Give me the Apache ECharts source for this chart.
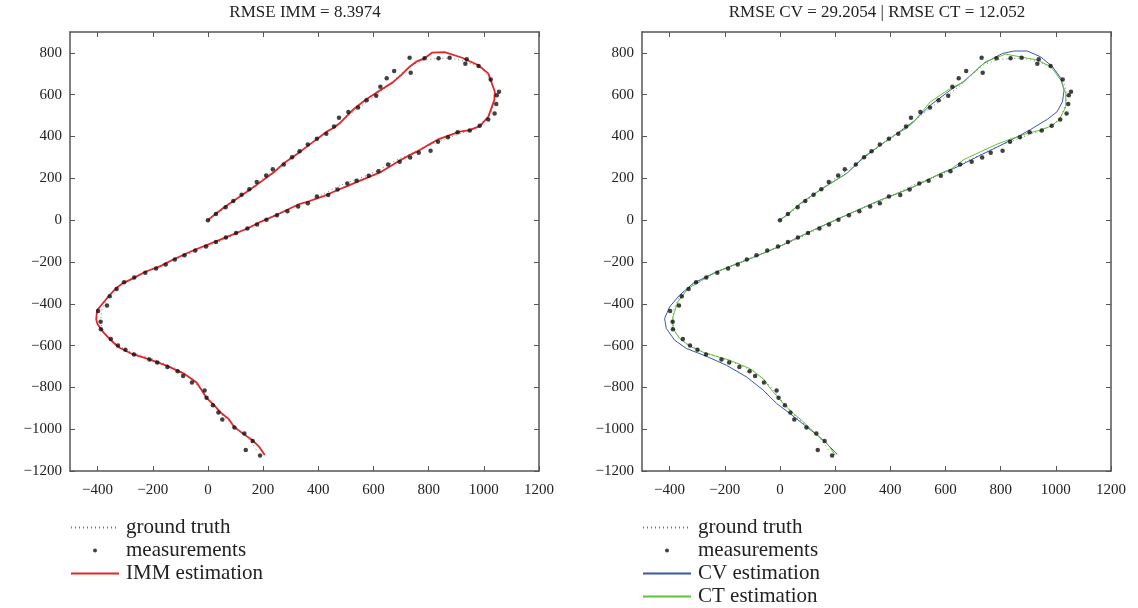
<!DOCTYPE html>
<html>
<head>
<meta charset="utf-8">
<script src="https://cdn.jsdelivr.net/npm/echarts@6/dist/echarts.min.js"></script>
<style>
html,body{margin:0;padding:0;background:#fff;}
#chart{width:1138px;height:608px;}
</style>
</head>
<body>
<div id="chart"></div>
<script>
// ---------- data ----------
const xTicks = [-400, -200, 0, 200, 400, 600, 800, 1000, 1200];
const yTicks = [-1200, -1000, -800, -600, -400, -200, 0, 200, 400, 600, 800];
const titleLeft = 'RMSE IMM = 8.3974';
const titleRight = 'RMSE CV = 29.2054 | RMSE CT = 12.052';
const legendLeft = ['ground truth', 'measurements', 'IMM estimation'];
const legendRight = ['ground truth', 'measurements', 'CV estimation', 'CT estimation'];

const truthPts = [
  [0,0],[50,48],[100,97],[150,148],[200,200],[250,245],[300,295],[350,345],[400,392],[450,440],
  [500,490],[550,540],[600,590],[650,640],[700,700],[740,745],[786,766],[834,774],[882,774],[937,758],
  [992,726],[1022,678],[1038,622],[1038,566],[1022,502],[992,455],[943,427],[882,399],[834,375],[773,343],
  [725,311],[680,285],[620,240],[560,205],[500,178],[440,140],[380,100],[320,70],[260,35],[200,0],
  [140,-40],[80,-80],[20,-115],[-40,-145],[-100,-178],[-160,-210],[-220,-245],[-280,-280],[-330,-320],[-365,-370],
  [-385,-430],[-390,-490],[-375,-545],[-340,-590],[-290,-625],[-220,-655],[-150,-690],[-100,-720],[-60,-760],[-25,-810],
  [10,-870],[50,-930],[95,-985],[140,-1035],[165,-1075],[180,-1110]
];

const measPts = [
  [0,0],[29,29],[64,62],[92,91],[122,121],[150,148],[177,182],[211,214],[235,244],[275,266],
  [305,301],[332,330],[362,362],[395,389],[429,413],[457,448],[475,490],[509,517],[544,539],[575,574],
  [610,595],[625,638],[648,679],[675,713],[731,777],[735,705],[785,774],[836,775],[876,777],[938,770],
  [933,748],[981,737],[1025,673],[1055,614],[1047,597],[1045,555],[1039,510],[1016,482],[985,451],[949,429],
  [905,421],[870,397],[834,375],[807,332],[764,322],[733,300],[695,279],[653,266],[618,234],[583,212],
  [539,188],[505,175],[470,147],[436,120],[395,113],[362,81],[327,65],[288,43],[250,24],[212,2],
  [178,-21],[143,-40],[102,-62],[65,-83],[29,-105],[-7,-126],[-46,-145],[-85,-168],[-120,-188],[-153,-212],
  [-188,-231],[-227,-252],[-267,-274],[-304,-297],[-331,-329],[-356,-364],[-366,-408],[-398,-435],[-389,-486],[-388,-522],
  [-352,-569],[-326,-600],[-299,-620],[-268,-643],[-212,-667],[-184,-681],[-147,-702],[-110,-723],[-90,-746],[-58,-777],
  [-12,-815],[-5,-850],[18,-885],[38,-920],[52,-954],[96,-992],[132,-1021],[162,-1056],[137,-1099],[189,-1126]
];

const immPts = [
  [0,0],[29,32],[67,69],[119,116],[179,171],[240,230],[274,271],[337,330],[398,391],[434,426],
  [456,442],[480,466],[509,506],[531,534],[573,577],[616,614],[670,659],[700,694],[731,734],[755,758],
  [785,774],[812,801],[858,804],[919,778],[979,742],[1016,702],[1040,614],[1038,574],[1016,494],[985,450],
  [949,431],[913,423],[834,386],[798,359],[761,330],[731,311],[688,279],[628,231],[585,207],[549,188],
  [507,164],[470,144],[422,116],[361,88],[331,77],[252,27],[191,-8],[143,-40],[34,-99],[-52,-144],
  [-124,-187],[-172,-220],[-227,-247],[-275,-281],[-306,-300],[-332,-324],[-360,-364],[-402,-431],[-405,-475],[-400,-498],
  [-378,-538],[-354,-571],[-324,-608],[-275,-640],[-215,-665],[-148,-697],[-87,-734],[-41,-777],[-5,-850],[22,-885],
  [46,-920],[76,-952],[95,-989],[132,-1026],[162,-1053],[186,-1085],[206,-1124]
];

const cvPts = [
  [0,0],[30,30],[73,78],[145,144],[242,224],[303,298],[364,359],[425,415],[485,472],[545,550],
  [618,622],[667,664],[739,750],[806,797],[848,809],[897,809],[945,781],[988,734],[1018,678],[1030,622],
  [1024,566],[1004,518],[970,483],[909,434],[861,399],[788,350],[727,311],[667,271],[630,247],[582,223],
  [473,152],[364,96],[255,32],[133,-40],[0,-125],[-100,-180],[-230,-247],[-315,-303],[-364,-359],[-400,-415],
  [-418,-470],[-412,-518],[-382,-574],[-339,-614],[-267,-651],[-194,-694],[-121,-750],[-61,-813],[-12,-877],[36,-925],
  [97,-989],[158,-1053],[208,-1121]
];

const ctPts = [
  [0,0],[30,28],[73,80],[145,144],[242,223],[303,303],[364,359],[420,410],[460,440],[485,470],
  [545,566],[618,630],[667,662],[745,758],[818,794],[873,781],[933,766],[982,734],[1018,670],[1036,606],
  [1036,542],[1012,479],[982,450],[945,431],[897,415],[836,388],[788,364],[727,327],[667,290],[624,247],
  [582,223],[473,152],[364,96],[255,32],[133,-40],[0,-125],[-100,-180],[-230,-247],[-333,-327],[-370,-391],
  [-388,-463],[-388,-518],[-364,-566],[-327,-603],[-273,-635],[-182,-670],[-109,-710],[-61,-758],[-30,-813],[12,-877],
  [48,-925],[79,-957],[103,-989],[145,-1040],[175,-1075],[200,-1124]
];

// ---------- chart ----------
const FONT = '"Liberation Serif", "DejaVu Serif", serif';
const AX = '#555';
const fmt = v => (v < 0 ? '\u2212' + (-v) : String(v));

function xAx(gi, pos, lbl) {
  return {
    type: 'value', gridIndex: gi, position: pos, min: -500, max: 1200,
    axisLine: { show: true, onZero: false, lineStyle: { color: AX, width: 1.5 } },
    axisTick: { show: true, inside: true, length: 5, customValues: xTicks, lineStyle: { color: AX, width: 1 } },
    axisLabel: { show: lbl, customValues: xTicks, formatter: fmt, fontFamily: FONT, fontSize: 15, color: '#222', margin: 12 },
    splitLine: { show: false }
  };
}
function yAx(gi, pos, lbl) {
  return {
    type: 'value', gridIndex: gi, position: pos, min: -1200, max: 900,
    axisLine: { show: true, onZero: false, lineStyle: { color: AX, width: 1.5 } },
    axisTick: { show: true, inside: true, length: 5, customValues: yTicks, lineStyle: { color: AX, width: 1 } },
    axisLabel: { show: lbl, customValues: yTicks, formatter: fmt, fontFamily: FONT, fontSize: 15, color: '#222', margin: 8 },
    splitLine: { show: false }
  };
}

function gtSeries(xi) {
  return { name: 'ground truth', type: 'line', xAxisIndex: xi, yAxisIndex: xi, data: truthPts,
    symbol: 'none', lineStyle: { color: '#777', width: 1, type: [1, 3] }, itemStyle: { color: '#777' }, z: 2 };
}
function measSeries(xi) {
  return { name: 'measurements', type: 'scatter', xAxisIndex: xi, yAxisIndex: xi, data: measPts,
    symbol: 'circle', symbolSize: 4.5, itemStyle: { color: '#111' }, z: 5 };
}
function estSeries(name, xi, pts, color, w) {
  return { name: name, type: 'line', xAxisIndex: xi, yAxisIndex: xi, data: pts,
    symbol: 'none', lineStyle: { color: color, width: w }, itemStyle: { color: color }, z: 3 };
}

function legendData(names) {
  return names.map(n => n === 'measurements' ? { name: n } : { name: n, itemStyle: { opacity: 0 } });
}

const legendBase = {
  orient: 'vertical', top: 517, itemWidth: 48, itemHeight: 4, itemGap: 2, padding: 0,
  selectedMode: false, align: 'left',
  textStyle: { fontFamily: FONT, fontSize: 21, color: '#222', lineHeight: 21, padding: [0, 0, 0, 2] }
};

const option = {
  animation: false,
  backgroundColor: '#fff',
  title: [
    { text: titleLeft, left: 305, top: 4, textAlign: 'center', padding: 0,
      textStyle: { fontFamily: FONT, fontSize: 17, fontWeight: 'normal', color: '#222' } },
    { text: titleRight, left: 877, top: 4, textAlign: 'center', padding: 0,
      textStyle: { fontFamily: FONT, fontSize: 17, fontWeight: 'normal', color: '#222' } }
  ],
  grid: [
    { left: 70, top: 32, width: 469, height: 439, containLabel: false },
    { left: 642, top: 32, width: 469, height: 439, containLabel: false }
  ],
  xAxis: [xAx(0, 'bottom', true), xAx(0, 'top', false), xAx(1, 'bottom', true), xAx(1, 'top', false)],
  yAxis: [yAx(0, 'left', true), yAx(0, 'right', false), yAx(1, 'left', true), yAx(1, 'right', false)],
  legend: [
    Object.assign({}, legendBase, { left: 70, data: legendData(legendLeft) }),
    Object.assign({}, legendBase, { left: 642, data: legendData(legendRight) })
  ],
  series: [
    gtSeries(0), measSeries(0), estSeries('IMM estimation', 0, immPts, '#e3262b', 1.8),
    gtSeries(2), measSeries(2),
    estSeries('CV estimation', 2, cvPts, '#3d57b3', 1),
    estSeries('CT estimation', 2, ctPts, '#62c03b', 1)
  ]
};

const chart = echarts.init(document.getElementById('chart'), null, { renderer: 'canvas' });
chart.setOption(option);
</script>
</body>
</html>
